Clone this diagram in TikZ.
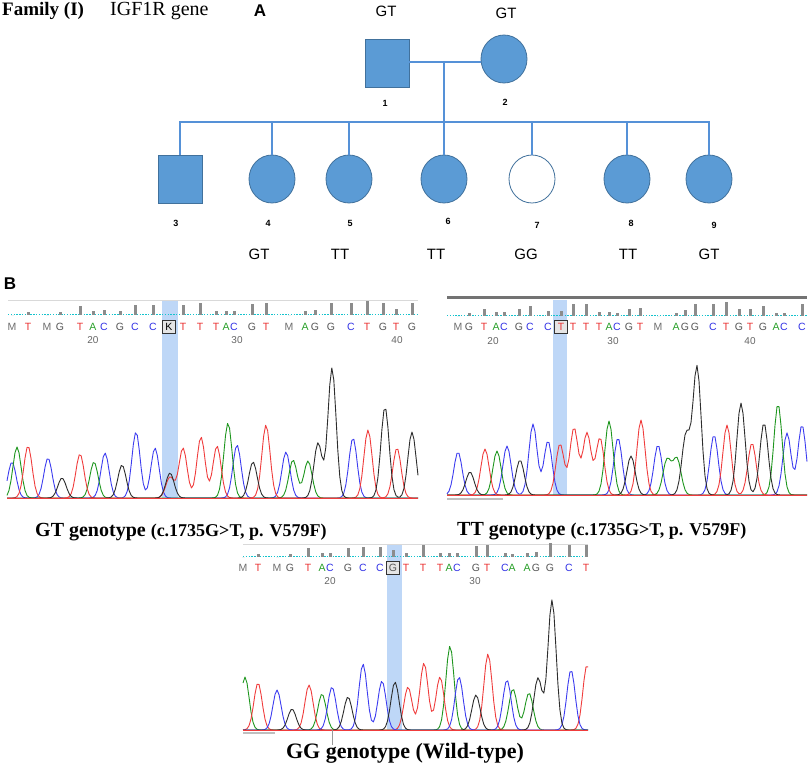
\documentclass[tikz,border=0pt]{standalone}
\usepackage{fontspec}
\setmainfont{Liberation Serif}
\setsansfont{Liberation Sans}
\usetikzlibrary{shapes.geometric}
\definecolor{pedfill}{RGB}{91,155,213}
\definecolor{peddraw}{RGB}{65,113,156}
\definecolor{pedline}{RGB}{85,145,215}
\definecolor{hl}{RGB}{190,215,247}
\definecolor{cR}{RGB}{240,60,60}
\definecolor{cB}{RGB}{60,60,240}
\definecolor{cG}{RGB}{30,150,30}
\definecolor{cK}{RGB}{45,45,45}
\definecolor{lA}{RGB}{40,160,40}
\definecolor{lC}{RGB}{50,50,230}
\definecolor{lG}{RGB}{85,85,85}
\definecolor{lT}{RGB}{235,50,50}
\definecolor{lM}{RGB}{110,110,110}
\definecolor{cyn}{RGB}{20,195,205}
\pgfmathdeclarefunction{gs}{3}{%
  \begingroup
  \pgfmathparse{#3*exp(max(-15,0-((#1-#2)/5.8)*((#1-#2)/5.8)))}%
  \pgfmathsmuggle\pgfmathresult
  \endgroup}
\begin{document}
\begin{tikzpicture}[x=1pt,y=-1pt,
  msq/.style={draw=peddraw,fill=pedfill,minimum width=44pt,minimum height=48pt,inner sep=0pt,line width=0.8pt},
  fcirc/.style={ellipse,draw=peddraw,fill=pedfill,minimum width=46pt,minimum height=48pt,inner sep=0pt,line width=0.8pt},
  wcirc/.style={fcirc,fill=white},
  pline/.style={draw=pedline,line width=1.2pt},
  gtxt/.style={font=\sffamily\fontsize{15}{15}\selectfont},
  ntxt/.style={font=\sffamily\bfseries\fontsize{9}{9}\selectfont},
  trace/.style={line width=0.9pt,line join=round},
  dots/.style={draw=cyn,line width=1pt,dash pattern=on 1.4pt off 1.4pt},
  basel/.style={font=\sffamily\fontsize{10.5}{10.5}\selectfont,inner sep=0pt},
  boxl/.style={basel,draw=black!80,fill=black!10,minimum width=13pt,minimum height=13pt,line width=0.8pt},
  numl/.style={font=\sffamily\fontsize{10}{10}\selectfont,text=black!60,inner sep=0pt},
  bar/.style={fill=black!45},
  captxt/.style={font=\bfseries,anchor=west,inner sep=0pt}]
\useasboundingbox (0,0) rectangle (809,769);
\fill[white] (0,0) rectangle (809,769);

% ---------- header ----------
\node[anchor=west,inner sep=0pt,font=\bfseries\fontsize{19}{19}\selectfont] (fam) at (2,11) {Family (I)};
\node[anchor=west,inner sep=0pt,font=\fontsize{20}{20}\selectfont] (gene) at (110,11) {IGF1R gene};
\node[inner sep=0pt,font=\sffamily\bfseries\fontsize{17}{17}\selectfont] (labA) at (260,11) {A};
\node[inner sep=0pt,font=\sffamily\bfseries\fontsize{17}{17}\selectfont] (labB) at (10,284) {B};

% ---------- pedigree ----------
\node[msq] (p1) at (387,63) {};
\node[fcirc] (p2) at (504,59) {};
\node[msq] (c3) at (180,179) {};
\node[fcirc] (c4) at (272,179) {};
\node[fcirc] (c5) at (349,179) {};
\node[fcirc] (c6) at (444,179) {};
\node[wcirc] (c7) at (532,179) {};
\node[fcirc] (c8) at (627,179) {};
\node[fcirc] (c9) at (709,179) {};
\coordinate (m) at (444,62);
\coordinate (sL) at (179,122);
\coordinate (sR) at (710,122);
\draw[pline] (p1.east |- m) -- (p2.west |- m);
\draw[pline] (m) -- (c6.north);
\draw[pline] (sL) -- (sR);
\foreach \n in {3,4,5,7,8,9} \draw[pline] (c\n.north |- sL) -- (c\n.north);
\node[gtxt] (g1) at (386,11) {GT};
\node[gtxt] (g2) at (506,13) {GT};
\node[ntxt] (n1) at (385,103) {1};
\node[ntxt] (n2) at (505,102) {2};
\foreach \n/\x/\y in {3/176/223,4/268/223,5/350/223,6/448/221,7/537/225,8/631/223,9/714/225}
  \node[ntxt] (n\n) at (\x,\y) {\n};
\foreach \i/\x/\g in {4/259/GT,5/340/TT,6/436/TT,7/526/GG,8/628/TT,9/709/GT}
  \node[gtxt] (gt\i) at (\x,254) {\g};

% ---------- left chromatogram ----------
\fill[hl] (162,300) rectangle (178,498);
\draw[black!15,line width=0.8pt] (8,300) -- (418,300);
\draw[dots] (8,314) -- (418,314);
\foreach \x/\l/\s/\h in {12/M/lM/0,28/T/lT/3,47/M/lM/0,60/G/lG/3,80/T/lT/9,93/A/lA/4,104/C/lC/5,120/G/lG/4,135/C/lC/10,153/C/lC/10,183/T/lT/10,200/T/lT/12,216/T/lT/4,226/A/lA/4,234/C/lC/4,252/G/lG/11,266/T/lT/12,289/M/lM/0,305/A/lA/4,315/G/lG/5,331/G/lG/12,351/C/lC/12,367/T/lT/14,383/G/lG/12,396/T/lT/6,412/G/lG/12}
{ \fill[bar] (\x-1.5,315) rectangle (\x+1.5,315-\h);
  \node[basel,text=\s] (lb\x) at (\x,327) {\l}; }
\node[boxl,text=black] (kbox) at (169,327) {K};
\node[numl] (l20) at (93,340) {20};
\node[numl] (l30) at (237,340) {30};
\node[numl] (l40) at (397,340) {40};
\def\bl{498}
\draw[trace,draw=cB] plot[domain=7:418,samples=206] (\x,{\bl-gs(\x,12,36)-gs(\x,48,40)-gs(\x,105,45)-gs(\x,136,66)-gs(\x,155,50)-gs(\x,237,53)-gs(\x,286,46)-gs(\x,353,60)});
\draw[trace,draw=cG] plot[domain=7:418,samples=206] (\x,{\bl-gs(\x,17,51)-gs(\x,94,36)-gs(\x,228,75)-gs(\x,293,38)-gs(\x,308,37)});
\draw[trace,draw=cR] plot[domain=7:418,samples=206] (\x,{\bl-gs(\x,28,52)-gs(\x,80,44)-gs(\x,170,21)-gs(\x,183,50)-gs(\x,201,61)-gs(\x,217,52)-gs(\x,266,73)-gs(\x,368,68)-gs(\x,397,50)});
\draw[trace,draw=cK] plot[domain=7:418,samples=206] (\x,{\bl-gs(\x,62,20)-gs(\x,122,33)-gs(\x,170,25)-gs(\x,253,36)-gs(\x,318,55)-gs(\x,332,130)-gs(\x,385,91)-gs(\x,412,66)});
\draw[cR,line width=1pt] (7,498) -- (418,498);
\node[captxt] (capL) at (35,532) {\fontsize{20}{20}\selectfont GT genotype \fontsize{18}{18}\selectfont(c.1735G>T, p. V579F)};

% ---------- right chromatogram ----------
\fill[hl] (553,300) rectangle (567,495);
\draw[black!55,line width=3pt] (447,297) -- (807,297);
\draw[dots] (447,315) -- (807,315);
\foreach \x/\l/\s/\h in {458/M/lM/0,469/G/lG/3,484/T/lT/7,496/A/lA/4,504/C/lC/4,519/G/lG/7,530/C/lC/10,548/C/lC/5,573/T/lT/12,586/T/lT/12,599/T/lT/4,609/A/lA/4,617/C/lC/3,629/G/lG/7,640/T/lT/8,658/M/lM/0,676/A/lA/3,685/G/lG/6,695/G/lG/12,713/C/lC/12,726/T/lT/14,739/G/lG/7,750/T/lT/7,763/G/lG/10,776/A/lA/3,784/C/lC/3,802/C/lC/12}
{ \fill[bar] (\x-1.5,316) rectangle (\x+1.5,316-\h);
  \node[basel,text=\s] (rb\x) at (\x,327) {\l}; }
\fill[bar] (559.5,316) rectangle (562.5,311);
\node[boxl,text=lT] (tbox) at (561,327) {T};
\node[numl] (r20) at (493,341) {20};
\node[numl] (r30) at (613,341) {30};
\node[numl] (r40) at (750,341) {40};
\def\bl{495}
\draw[trace,draw=cB] plot[domain=447:807,samples=181] (\x,{\bl-gs(\x,458,43)-gs(\x,507,49)-gs(\x,533,71)-gs(\x,548,54)-gs(\x,618,57)-gs(\x,658,50)-gs(\x,714,60)-gs(\x,787,62)-gs(\x,802,70)});
\draw[trace,draw=cG] plot[domain=447:807,samples=181] (\x,{\bl-gs(\x,497,44)-gs(\x,609,74)-gs(\x,667,35)-gs(\x,677,36)-gs(\x,778,91)});
\draw[trace,draw=cR] plot[domain=447:807,samples=181] (\x,{\bl-gs(\x,485,46)-gs(\x,560,51)-gs(\x,574,67)-gs(\x,587,62)-gs(\x,600,57)-gs(\x,641,75)-gs(\x,727,70)-gs(\x,752,52)});
\draw[trace,draw=cK] plot[domain=447:807,samples=181] (\x,{\bl-gs(\x,470,23)-gs(\x,520,35)-gs(\x,631,39)-gs(\x,686,60)-gs(\x,697,128)-gs(\x,741,92)-gs(\x,764,72)});
\draw[cR,line width=1pt] (447,495) -- (807,495);
\draw[black!25,line width=1.5pt] (447,499) -- (503,499);
\node[captxt] (capR) at (457,531) {\fontsize{20}{20}\selectfont TT genotype \fontsize{18}{18}\selectfont(c.1735G>T, p. V579F)};

% ---------- bottom chromatogram ----------
\fill[hl] (387,544) rectangle (402,730);
\draw[black!15,line width=0.8pt] (243,544) -- (588,544);
\draw[dots] (243,556) -- (588,556);
\foreach \x/\l/\s/\h in {243/M/lM/0,258/T/lT/3,277/M/lM/0,290/G/lG/3,308/T/lT/9,322/A/lA/4,330/C/lC/4,348/G/lG/9,363/C/lC/10,380/C/lC/10,406/T/lT/4,423/T/lT/12,440/T/lT/4,449/A/lA/4,457/C/lC/4,476/G/lG/11,487/T/lT/12,505/C/lC/4,512/A/lA/3,527/A/lA/4,536/G/lG/5,550/G/lG/14,569/C/lC/12,586/T/lT/12}
{ \fill[bar] (\x-1.5,557) rectangle (\x+1.5,557-\h);
  \node[basel,text=\s] (bb\x) at (\x,568) {\l}; }
\fill[bar] (391.5,557) rectangle (394.5,550);
\node[boxl,text=lG] (gbox) at (393,568) {G};
\node[numl] (b20) at (330,581) {20};
\node[numl] (b30) at (475,581) {30};
\def\bl{730}
\draw[trace,draw=cG] plot[domain=243:588,samples=173] (\x,{\bl-gs(\x,245,53)-gs(\x,322,36)-gs(\x,450,84)-gs(\x,513,41)-gs(\x,529,37)});
\draw[trace,draw=cR] plot[domain=243:588,samples=173] (\x,{\bl-gs(\x,258,47)-gs(\x,309,45)-gs(\x,408,43)-gs(\x,424,67)-gs(\x,440,53)-gs(\x,488,76)-gs(\x,587,65)});
\draw[trace,draw=cB] plot[domain=243:588,samples=173] (\x,{\bl-gs(\x,277,40)-gs(\x,332,43)-gs(\x,363,66)-gs(\x,382,49)-gs(\x,459,53)-gs(\x,507,50)-gs(\x,571,60)});
\draw[trace,draw=cK] plot[domain=243:588,samples=173] (\x,{\bl-gs(\x,292,21)-gs(\x,348,33)-gs(\x,395,48)-gs(\x,476,35)-gs(\x,538,52)-gs(\x,552,130)});
\draw[cR,line width=1pt] (243,730) -- (588,730);
\draw[black!25,line width=1.5pt] (243,733) -- (275,733);
\draw[black!40,line width=0.6pt] (332,730) -- (332,745);
\node[captxt,font=\bfseries\fontsize{22}{22}\selectfont,anchor=center] (capB) at (405,753) {GG genotype (Wild-type)};
\end{tikzpicture}
\end{document}
